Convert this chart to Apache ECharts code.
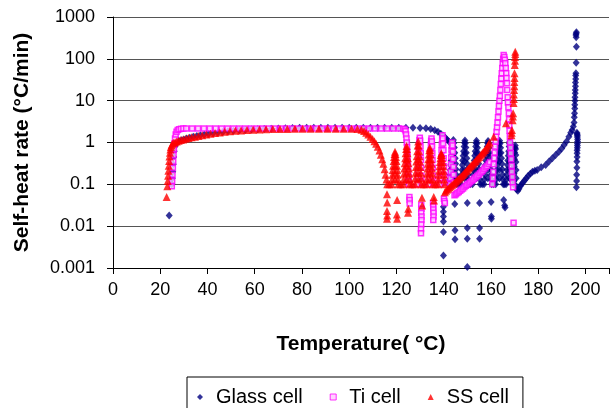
<!DOCTYPE html>
<html>
<head>
<meta charset="utf-8">
<script src="https://cdn.jsdelivr.net/npm/echarts@6/dist/echarts.min.js"></script>
<style>
  html, body { margin: 0; padding: 0; background: #fff; }
  #chart { width: 612px; height: 408px; }
</style>
</head>
<body>
<div id="chart"></div>
<script>
// [temperature (°C), self-heat rate (°C/min)]
const glassCell = [
  [23.8,0.018],
  [24.9,0.1],[25.1,0.14],[25.3,0.2],[25.5,0.3],[25.7,0.45],[25.9,0.62],[26.2,0.8],[26.6,0.95],[27.2,1.03],
  [28,1.08],[29,1.13],[30,1.18],[31.2,1.24],[32.5,1.3],[34,1.37],[35.5,1.43],[37,1.49],[38.7,1.55],[40.5,1.61],
  [42.4,1.67],[44.4,1.73],[46.5,1.79],[48.7,1.85],[51,1.9],[53.5,1.95],[56,2.0],[58.6,2.04],[61.3,2.08],[64,2.11],
  [67,2.14],[70,2.17],[73,2.2],[76,2.22],[79,2.24],[82,2.25],[85,2.25],[88,2.25],[91,2.25],[94,2.25],[97,2.25],
  [100,2.25],[103,2.25],[106,2.25],[109,2.25],[112,2.25],[115,2.25],[118,2.25],[121,2.25],[124,2.25],[127,2.25],
  [130,2.22],[132.5,2.18],[134.5,2.1],[136.2,1.97],[137.6,1.8],[138.8,1.62],[139.8,1.45],[140.7,1.3],[141.5,1.17],[142.2,1.06],
  // heat-wait-search teeth
  [142.4,0.1],[142.55,0.13],[142.7,0.17],[142.85,0.22],[143.0,0.29],[143.15,0.37],[143.35,0.48],[143.55,0.62],[143.75,0.8],[143.9,0.98],
  [144.1,1.15],[144.3,0.97],[144.5,0.76],[144.7,0.57],[144.9,0.42],[145.05,0.31],[145.2,0.23],[145.35,0.17],[145.5,0.13],[145.65,0.1],
  [147.3,0.1],[147.45,0.13],[147.6,0.17],[147.75,0.22],[147.9,0.29],[148.05,0.37],[148.25,0.48],[148.45,0.62],[148.65,0.8],[148.8,0.98],
  [149.0,1.12],[149.2,0.96],[149.4,0.76],[149.6,0.57],[149.8,0.42],[149.95,0.31],[150.1,0.23],[150.25,0.17],[150.4,0.13],[150.55,0.1],
  [152.2,0.1],[152.35,0.13],[152.5,0.17],[152.65,0.22],[152.8,0.29],[152.95,0.37],[153.15,0.48],[153.35,0.62],[153.55,0.8],[153.7,0.97],
  [153.9,1.1],[154.1,0.95],[154.3,0.75],[154.5,0.57],[154.7,0.42],[154.85,0.31],[155.0,0.23],[155.15,0.17],[155.3,0.13],[155.45,0.1],
  [157.1,0.1],[157.25,0.13],[157.4,0.17],[157.55,0.22],[157.7,0.29],[157.85,0.37],[158.05,0.48],[158.25,0.62],[158.45,0.8],[158.6,0.96],
  [158.8,1.08],[159.0,0.94],[159.2,0.75],[159.4,0.57],[159.6,0.42],[159.75,0.31],[159.9,0.23],[160.05,0.17],[160.2,0.13],[160.35,0.1],
  [162.0,0.1],[162.15,0.13],[162.3,0.17],[162.45,0.22],[162.6,0.29],[162.75,0.37],[162.95,0.48],[163.15,0.62],[163.35,0.8],[163.5,0.97],
  [163.7,1.1],[163.9,0.95],[164.1,0.75],[164.3,0.57],[164.5,0.42],[164.65,0.31],[164.8,0.23],[164.95,0.17],[165.1,0.13],[165.25,0.1],
  [166.4,0.1],[166.55,0.13],[166.7,0.17],[166.85,0.22],[167.0,0.29],[167.15,0.37],[167.35,0.48],[167.55,0.62],[167.75,0.8],[167.85,0.95],
  [168.0,1.05],[168.2,0.92],[168.4,0.74],[168.6,0.57],[168.8,0.42],[168.95,0.31],[169.1,0.23],[169.25,0.17],[169.4,0.13],[169.55,0.1],
  [169.7,0.12],[169.8,0.18],[169.9,0.27],[170.0,0.4],[170.1,0.58],[170.2,0.75],[170.3,0.85],[170.45,0.7],[170.55,0.5],[170.6,0.34],
  [170.65,0.22],[170.7,0.14],[170.8,0.09],
  [146.4,0.1],[151.3,0.1],[156.3,0.1],[161.2,0.1],[165.8,0.1],
  [144.0,0.14],[144.0,0.22],[144.0,0.35],[144.0,0.55],[148.9,0.14],[148.9,0.22],[148.9,0.35],[148.9,0.55],
  [153.8,0.14],[153.8,0.22],[153.8,0.35],[153.8,0.55],[158.7,0.14],[158.7,0.22],[158.7,0.35],[158.7,0.55],
  [163.6,0.14],[163.6,0.22],[163.6,0.35],[163.6,0.55],[167.9,0.14],[167.9,0.22],[167.9,0.35],[167.9,0.55],
  // scattered low readings
  [139.9,0.029],[139.9,0.022],[139.9,0.017],[139.9,0.013],[139.9,0.0073],[139.9,0.002],
  [144.7,0.034],[144.8,0.008],[144.8,0.0049],
  [150.0,0.036],[150.0,0.009],[150.0,0.005],[150.0,0.00105],
  [155.2,0.036],[155.2,0.009],[155.2,0.005],
  [160.1,0.038],[160.2,0.017],[160.2,0.015],
  [165.4,0.042],[165.8,0.031],[166.0,0.028],
  // after the last step
  [170.9,0.075],[171.4,0.07],[171.9,0.078],[172.4,0.09],[173,0.1],[173.6,0.11],[174.3,0.125],[175,0.14],[175.8,0.16],
  [176.7,0.18],[177.6,0.2],[178.6,0.21],[179.6,0.22],[181.3,0.255],[183.2,0.29],[184.6,0.35],[186,0.42],[187.4,0.5],
  [188.8,0.6],[190,0.72],[191,0.87],[192,1.05],[193,1.38],[193.8,1.7],[194.4,2.0],[194.9,2.4],
  [195.2,3],[195.3,4],[195.4,5],[195.5,6.5],[195.5,8],[195.6,10],[195.6,12],[195.7,15],[195.7,18],[195.8,22],
  [195.8,27],[195.9,33],[195.9,40],[196,45],[196.1,81],[196.2,195],[196.1,330],[196.0,370],[196.1,400],[196.2,430],
  [196.4,1.7],[196.5,1.6],[196.6,1.5],[196.6,1.35],[196.7,1.2],[196.7,1.05],[196.6,0.95],[196.6,0.85],[196.6,0.75],
  [196.5,0.65],[196.5,0.55],[196.5,0.45],[196.4,0.35],[196.4,0.25],[196.3,0.17],[196.3,0.12],[196.2,0.085]
];

const tiCell = [
  [24.9,0.09],[25.05,0.12],[25.2,0.17],[25.35,0.25],[25.5,0.35],[25.65,0.5],[25.8,0.7],[26.0,0.95],[26.25,1.25],
  [26.55,1.55],[26.9,1.8],[27.4,1.98],[28.0,2.08],[28.8,2.12],[29.8,2.15],[31,2.15],[33.5,2.15],[36,2.15],[38.5,2.15],
  [41,2.15],[43.5,2.15],[46,2.15],[48.5,2.15],[51,2.15],[53.5,2.15],[56,2.15],[58.5,2.15],[61,2.15],[63.5,2.15],
  [66,2.15],[68.5,2.15],[71,2.15],[73.5,2.15],[76,2.15],[78.5,2.15],[81,2.15],[83.5,2.15],[86,2.15],[88.5,2.15],
  [91,2.15],[93.5,2.15],[96,2.15],[98.5,2.15],[101,2.15],[103.5,2.15],[106,2.15],[108.5,2.15],[111,2.15],[113.5,2.15],
  [116,2.15],[118.5,2.15],[121,2.15],[123,2.12],
  [123.6,2.05],[123.9,1.85],[124.1,1.55],[124.25,1.25],[124.4,1.0],[124.5,0.78],[124.6,0.6],[124.7,0.46],[124.8,0.35],
  [124.9,0.27],[125.0,0.2],[125.1,0.15],[125.2,0.12],[125.3,0.1],
  [125.5,0.05],[125.6,0.042],[125.6,0.035],
  [129.0,0.1],[129.1,0.14],[129.2,0.2],[129.3,0.3],[129.4,0.45],[129.5,0.65],[129.6,0.9],[129.75,1.15],[129.9,1.3],
  [130.05,1.1],[130.2,0.8],[130.3,0.55],[130.4,0.38],[130.5,0.25],[130.6,0.16],[130.7,0.11],
  [130.5,0.032],[130.6,0.026],[130.5,0.021],[130.6,0.017],[130.6,0.014],[130.5,0.011],[130.4,0.0085],[130.4,0.0068],
  [134.0,0.1],[134.1,0.14],[134.2,0.2],[134.3,0.3],[134.4,0.45],[134.5,0.65],[134.6,0.9],[134.7,1.1],[134.85,1.25],
  [135.0,1.05],[135.1,0.8],[135.2,0.55],[135.3,0.38],[135.4,0.25],[135.5,0.16],[135.6,0.11],
  [135.5,0.036],[135.6,0.03],[135.6,0.025],[135.7,0.021],[135.7,0.017],[135.6,0.014],
  [138.6,0.1],[138.7,0.14],[138.8,0.2],[138.9,0.3],[139.0,0.45],[139.1,0.65],[139.2,0.9],[139.35,1.2],[139.5,1.5],
  [139.65,1.25],[139.8,0.95],[139.9,0.65],[140.0,0.42],[140.1,0.27],[140.2,0.17],[140.3,0.11],
  [140.1,0.045],[140.3,0.04],[140.5,0.036],
  [142.8,0.1],[142.9,0.14],[143.0,0.2],[143.1,0.3],[143.2,0.45],[143.3,0.65],[143.45,0.85],[143.6,1.0],[143.75,0.85],
  [143.9,0.6],[144.0,0.4],[144.1,0.26],[144.2,0.17],[144.3,0.11],
  [144.6,0.055],[145.2,0.058],[145.8,0.062],[146.4,0.066],[147,0.07],[147.6,0.075],[148.2,0.08],[148.8,0.086],
  [149.4,0.092],[150,0.098],[150.6,0.105],[151.2,0.112],[151.8,0.12],[152.4,0.128],[153,0.137],[153.6,0.147],
  [154.2,0.158],[154.8,0.17],[155.4,0.184],[156,0.2],[156.6,0.215],[157.2,0.235],[157.8,0.255],[158.4,0.28],
  [159,0.31],[159.6,0.34],
  [160.6,0.1],[160.8,0.14],[161.0,0.2],[161.2,0.3],[161.4,0.42],[161.6,0.58],[161.8,0.8],[162.0,1.05],[162.2,1.4],
  [162.4,1.8],[162.6,2.3],[162.8,3.0],[163.0,4.0],[163.2,5.5],[163.4,7.5],[163.6,10],[163.8,13],[164.0,18],
  [164.2,25],[164.4,34],[164.6,45],[164.8,60],[165.0,80],[165.2,100],[165.4,124],
  [165.7,110],[165.9,95],[166.1,78],[166.3,60],[166.5,45],[166.6,35],[166.8,26],[166.9,18],[167.1,12],[167.2,9],
  [167.4,7],[167.6,5],[167.7,3.6],[167.8,2.6],[167.9,1.9],[168.0,1.4],[168.1,1.0],[168.3,0.75],[168.4,0.55],
  [168.6,0.4],[168.8,0.28],[168.9,0.2],[169.1,0.15],[169.2,0.11],[169.4,0.085],
  [169.6,0.012]
];

const ssCell = [
  [22.7,0.05],
  [23.0,0.09],[23.15,0.12],[23.3,0.16],[23.45,0.21],[23.6,0.28],[23.75,0.36],[23.9,0.46],[24.1,0.57],[24.3,0.68],
  [24.5,0.78],[24.8,0.86],[25.2,0.93],[25.7,0.98],[26.3,1.02],[27.0,1.06],[27.8,1.1],[28.7,1.14],[29.7,1.18],
  [30.8,1.23],[32.0,1.28],[33.3,1.33],[34.7,1.38],[36.2,1.44],[37.8,1.5],[39.5,1.56],[41.3,1.62],[43.2,1.68],
  [45.2,1.74],[47.3,1.8],[49.5,1.85],[51.8,1.9],[54.2,1.94],[56.7,1.98],[59.3,2.02],[62.0,2.05],[64.8,2.07],
  [67.7,2.09],[70.7,2.1],[73.8,2.11],[77.0,2.12],[80.3,2.12],[83.7,2.12],[87.2,2.12],[90.8,2.12],[94.3,2.12],
  [97.7,2.12],[101.0,2.12],[103.5,2.1],[105.2,2.02],[106.3,1.88],[107.2,1.72],[108.1,1.55],[109.0,1.38],[109.9,1.22],
  [110.7,1.07],[111.4,0.93],[112.1,0.79],[112.8,0.64],[113.4,0.51],[114.0,0.4],[114.5,0.31],[115.0,0.23],[115.4,0.17],
  [115.8,0.13],[116.1,0.1],
  [116.0,0.058],[116.1,0.037],[116.0,0.023],[116.1,0.018],[116.0,0.015],
  [120.3,0.042],[120.2,0.019],[120.3,0.015],
  [124.9,0.021],[125.0,0.026],
  [130.8,0.048],[130.9,0.031],
  [135.8,0.05],[135.9,0.041],
  // heat-wait-search teeth
  [118.0,0.1],[118.15,0.13],[118.3,0.17],[118.45,0.22],[118.6,0.28],[118.8,0.36],[119.0,0.45],[119.2,0.53],[119.4,0.6],
  [119.6,0.53],[119.8,0.45],[120.0,0.36],[120.2,0.28],[120.35,0.22],[120.5,0.17],[120.65,0.13],[120.8,0.1],
  [119.4,0.13],[119.4,0.19],[119.4,0.28],[119.4,0.4],
  [122.9,0.1],[123.05,0.13],[123.2,0.18],[123.35,0.24],[123.5,0.32],[123.7,0.42],[123.9,0.55],[124.1,0.7],[124.3,0.82],
  [124.5,0.7],[124.7,0.55],[124.9,0.42],[125.1,0.32],[125.25,0.24],[125.4,0.18],[125.55,0.13],[125.7,0.1],
  [124.3,0.13],[124.3,0.19],[124.3,0.28],[124.3,0.4],
  [127.8,0.1],[127.95,0.14],[128.1,0.19],[128.25,0.26],[128.4,0.35],[128.6,0.47],[128.8,0.62],[129.0,0.85],[129.2,1.05],
  [129.4,0.85],[129.6,0.62],[129.8,0.47],[130.0,0.35],[130.15,0.26],[130.3,0.19],[130.45,0.14],[130.6,0.1],
  [129.2,0.13],[129.2,0.19],[129.2,0.28],[129.2,0.4],
  [132.7,0.1],[132.85,0.13],[133.0,0.18],[133.15,0.24],[133.3,0.31],[133.5,0.4],[133.7,0.52],[133.9,0.65],[134.1,0.75],
  [134.3,0.65],[134.5,0.52],[134.7,0.4],[134.9,0.31],[135.05,0.24],[135.2,0.18],[135.35,0.13],[135.5,0.1],
  [134.1,0.13],[134.1,0.19],[134.1,0.28],[134.1,0.4],
  [137.6,0.1],[137.75,0.13],[137.9,0.17],[138.05,0.21],[138.2,0.27],[138.4,0.34],[138.6,0.42],[138.8,0.5],[139.0,0.55],
  [139.2,0.5],[139.4,0.42],[139.6,0.34],[139.8,0.27],[139.95,0.21],[140.1,0.17],[140.25,0.13],[140.4,0.1],
  [117.0,0.1],[121.8,0.1],[126.7,0.1],[131.6,0.1],[136.5,0.1],
  // runaway
  [140.5,0.065],[141,0.07],[141.5,0.075],[142,0.08],[142.5,0.085],[143,0.09],[143.5,0.096],[144,0.102],[144.5,0.108],
  [145,0.115],[145.5,0.122],[146,0.13],[146.5,0.138],[147,0.147],[147.5,0.157],[148,0.168],[148.5,0.18],[149,0.193],
  [149.5,0.207],[150,0.222],[150.5,0.238],[151,0.255],[151.5,0.273],[152,0.293],[152.5,0.315],[153,0.338],[153.5,0.363],
  [154,0.39],[154.5,0.42],[155,0.452],[155.5,0.487],[156,0.525],[156.5,0.566],[157,0.61],[157.5,0.66],[158,0.72],
  [158.5,0.8],[159,0.9],[159.4,1.0],
  [161.2,1.38],[166.4,2.9],
  [168.7,1.5],[168.8,1.7],[168.9,2.0],[169.2,3.4],[169.3,4.2],[169.4,5],[169.6,8.8],[169.7,11],[169.7,14],
  [169.8,18],[169.9,22],[169.9,28],[170.0,35],[170.0,45],[170.1,71],[170.2,90],[170.2,110],[170.3,130],[170.3,148]
];

const xTicks = [0, 20, 40, 60, 80, 100, 120, 140, 160, 180, 200];
const yTickLabels = ['0.001', '0.01', '0.1', '1', '10', '100', '1000'];

const font = "'Liberation Sans', Arial, sans-serif";
const chart = echarts.init(document.getElementById('chart'));

const option = {
  animation: false,
  backgroundColor: '#fff',
  grid: { left: 113, right: 0, top: 17, bottom: 140 },
  xAxis: {
    type: 'value',
    min: 0,
    max: 210,
    interval: 20,
    name: 'Temperature( °C)',
    nameLocation: 'middle',
    nameGap: 66,
    nameTextStyle: { fontFamily: font, fontSize: 21, fontWeight: 'bold', color: '#000' },
    axisLine: { lineStyle: { color: '#000', width: 1 } },
    axisTick: { length: 6, lineStyle: { color: '#000' } },
    axisLabel: {
      fontFamily: font, fontSize: 18, color: '#000', margin: 13,
      formatter: v => (xTicks.indexOf(v) >= 0 ? String(v) : '')
    },
    splitLine: { show: false }
  },
  yAxis: {
    type: 'log',
    logBase: 10,
    min: 0.001,
    max: 1000,
    name: 'Self-heat rate (°C/min)',
    nameLocation: 'middle',
    nameGap: 80,
    nameTextStyle: { fontFamily: font, fontSize: 21, fontWeight: 'bold', color: '#000' },
    axisLine: { show: true, lineStyle: { color: '#000', width: 1 } },
    axisTick: { show: true, length: 6, lineStyle: { color: '#000' } },
    axisLabel: {
      fontFamily: font, fontSize: 18, color: '#000', margin: 18,
      formatter: v => yTickLabels[Math.round(Math.log10(v)) + 3]
    },
    splitLine: { show: true, lineStyle: { color: '#555', width: 1 } }
  },
  legend: {
    left: 187,
    top: 377,
    orient: 'horizontal',
    itemWidth: 6,
    itemHeight: 6,
    itemGap: 27,
    padding: [10, 14, 10, 10],
    borderColor: '#000',
    borderWidth: 1,
    textStyle: { fontFamily: font, fontSize: 20, color: '#000', padding: [0, 0, 0, 8] },
    data: [
      { name: 'Glass cell' },
      { name: 'Ti cell', itemStyle: { borderWidth: 1 } },
      { name: 'SS cell' }
    ]
  },
  series: [
    {
      name: 'Glass cell',
      type: 'scatter',
      symbol: 'diamond',
      symbolSize: [7, 8],
      itemStyle: { color: '#000080' },
      data: glassCell
    },
    {
      name: 'Ti cell',
      type: 'scatter',
      symbol: 'rect',
      symbolSize: 5,
      itemStyle: { color: '#ffc8ff', borderColor: '#ff00ff', borderWidth: 1.5 },
      data: tiCell
    },
    {
      name: 'SS cell',
      type: 'scatter',
      symbol: 'triangle',
      symbolSize: 8,
      itemStyle: { color: '#ff0000' },
      data: ssCell
    }
  ]
};

chart.setOption(option);
</script>
</body>
</html>
